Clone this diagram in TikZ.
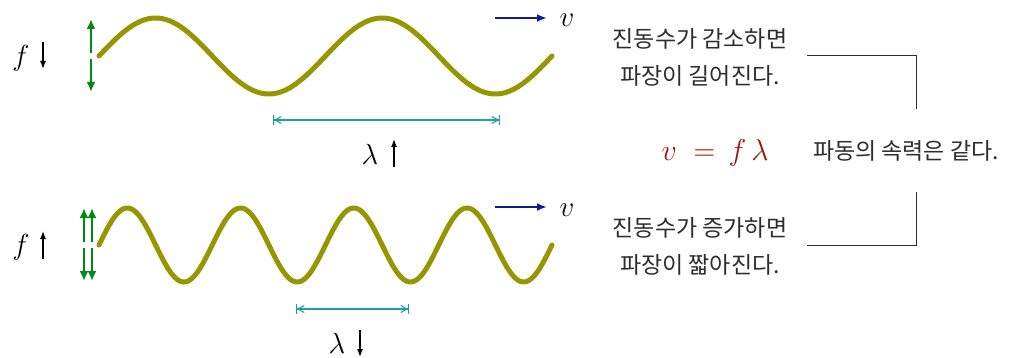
\documentclass[tikz,border=0pt]{standalone}
\usepackage{fontspec}
\newfontfamily\kr{Noto Sans CJK KR}
\usetikzlibrary{arrows.meta}
\definecolor{wavecol}{RGB}{150,150,0}
\definecolor{greencol}{RGB}{0,140,20}
\definecolor{bluecol}{RGB}{10,30,150}
\definecolor{tealcol}{RGB}{30,160,160}
\definecolor{redcol}{RGB}{160,20,10}
\definecolor{txtcol}{RGB}{45,45,45}
\tikzset{
  wave/.style={wavecol, line width=5pt, line cap=round},
  osc/.style={greencol, line width=2.8pt, -{Latex[length=10pt,width=9pt]}},
  vel/.style={bluecol, line width=2.8pt, -{Latex[length=10pt,width=8pt]}},
  small/.style={black, line width=1.4pt, -{Latex[length=8pt,width=6pt]}},
  dim/.style={tealcol, line width=1.1pt, {Bar[width=10pt]Straight Barb[length=6pt,width=7pt,sep=0pt]}-{Straight Barb[length=6pt,width=7pt,sep=0pt]Bar[width=10pt]}},
  ktext/.style={txtcol, font=\kr\fontsize{23}{37}\selectfont, align=center},
  mathlbl/.style={font=\fontsize{20}{24}\selectfont, inner sep=0pt, scale=1.4},
  brk/.style={txtcol, line width=1pt}
}
\begin{document}
\begin{tikzpicture}[x=1pt,y=-1pt]
\useasboundingbox (0,0) rectangle (1011,358);
% waves
\draw[wave] plot[domain=99:552, samples=240] (\x, {56-38*sin(1.58940*(\x-99))});
\draw[wave] plot[domain=99:552, samples=300] (\x, {245-37*sin(3.17881*(\x-99))});
% green oscillation arrows
\coordinate (t0a) at (91,53); \coordinate (t1a) at (91,19);
\coordinate (t0b) at (91,59); \coordinate (t1b) at (91,92);
\draw[osc] (t0a) -- (t1a);
\draw[osc] (t0b) -- (t1b);
\foreach \xx/\nm in {84/l,92/r}{
  \coordinate (b0a\nm) at (\xx,242); \coordinate (b1a\nm) at (\xx,208);
  \coordinate (b0b\nm) at (\xx,248); \coordinate (b1b\nm) at (\xx,281);
  \draw[osc] (b0a\nm) -- (b1a\nm);
  \draw[osc] (b0b\nm) -- (b1b\nm);
}
% f labels
\node[mathlbl] (f1) at (21,58) {$f$};
\coordinate (fa1s) at (43,42); \coordinate (fa1e) at (43,69);
\draw[small] (fa1s) -- (fa1e);
\node[mathlbl] (f2) at (21,247) {$f$};
\coordinate (fa2s) at (43,259); \coordinate (fa2e) at (43,231);
\draw[small] (fa2s) -- (fa2e);
% velocity arrows
\coordinate (v1s) at (495,18); \coordinate (v1e) at (547,18);
\draw[vel] (v1s) -- (v1e);
\node[mathlbl] (v1) at (567,20) {$v$};
\coordinate (v2s) at (495,207); \coordinate (v2e) at (547,207);
\draw[vel] (v2s) -- (v2e);
\node[mathlbl] (v2) at (567,210) {$v$};
% wavelengths
\coordinate (l1s) at (273,120); \coordinate (l1e) at (500,120);
\draw[dim] (l1s) -- (l1e);
\node[mathlbl] (lam1) at (370,154) {$\lambda$};
\coordinate (la1s) at (394,167); \coordinate (la1e) at (394,139);
\draw[small] (la1s) -- (la1e);
\coordinate (l2s) at (296,309); \coordinate (l2e) at (409,309);
\draw[dim] (l2s) -- (l2e);
\node[mathlbl] (lam2) at (337,343) {$\lambda$};
\coordinate (la2s) at (360,330); \coordinate (la2e) at (360,357);
\draw[small] (la2s) -- (la2e);
% texts
\node[ktext] (t1) at (700,57) {진동수가 감소하면\\파장이 길어진다.};
\node[ktext] (t2) at (700,246) {진동수가 증가하면\\파장이 짧아진다.};
\node[redcol, font=\fontsize{20}{24}\selectfont, inner sep=0pt, scale=1.45] (eq) at (715,153) {$v\;\;{=}\;\,f\,\lambda$};
\node[ktext] (t3) at (906,151) {파동의 속력은 같다.};
% brackets
\coordinate (b1a) at (807,56); \coordinate (b1b) at (916,56); \coordinate (b1c) at (916,109);
\draw[brk] (b1a) -- (b1b) -- (b1c);
\coordinate (b2a) at (916,192); \coordinate (b2b) at (916,245); \coordinate (b2c) at (807,245);
\draw[brk] (b2a) -- (b2b) -- (b2c);
\end{tikzpicture}
\end{document}
